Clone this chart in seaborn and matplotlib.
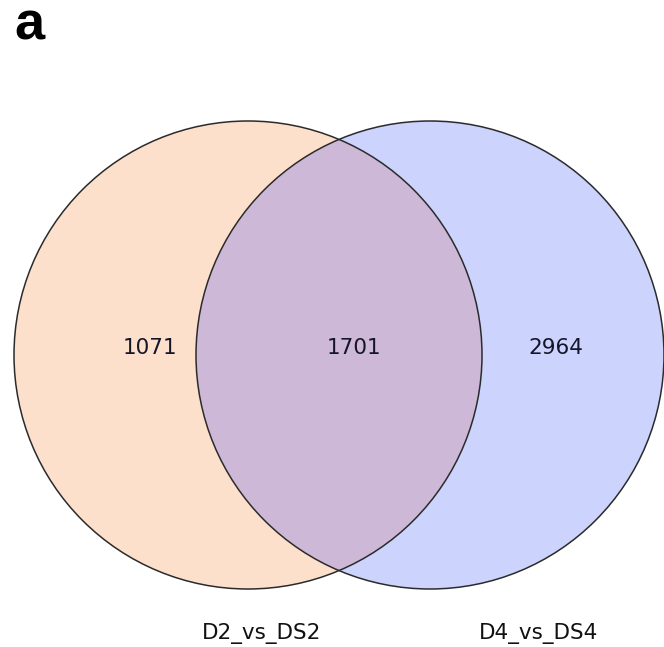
import matplotlib
matplotlib.use("Agg")
import matplotlib.pyplot as plt
from matplotlib.patches import Circle
import seaborn as sns

# Data
set_names = ["D2_vs_DS2", "D4_vs_DS4"]
region_labels = ["1071", "1701", "2964"]  # left only, shared, right only
panel_label = "a"

# Layout (pixel coordinates)
W, H = 664, 647
centers = [(248, 355), (430, 355)]
radius = 234
fill_colors = ["#FDE0CC", "#CCD3FD"]
overlap_color = "#CDB9D7"
count_pos = [(150, 348), (354, 348), (556, 348)]
name_pos = [(262, 634), (539, 634)]

sns.set_theme(style="white")
plt.rcParams["font.family"] = ["DejaVu Sans"]

fig = plt.figure(figsize=(W / 100, H / 100), dpi=100)
ax = fig.add_axes([0, 0, 1, 1])
ax.set_xlim(0, W)
ax.set_ylim(H, 0)
ax.set_aspect("equal")
ax.axis("off")

circles = []
for c, col in zip(centers, fill_colors):
    p = Circle(c, radius, facecolor=col, edgecolor="none", zorder=1)
    ax.add_patch(p)
    circles.append(p)

# overlap region
ov = Circle(centers[0], radius, facecolor=overlap_color, edgecolor="none", zorder=2)
ax.add_patch(ov)
ov.set_clip_path(circles[1])

for c in centers:
    ax.add_patch(Circle(c, radius, facecolor="none", edgecolor="#2b2b2b",
                        linewidth=1.1, zorder=3))

for (x, y), t in zip(count_pos, region_labels):
    ax.text(x, y, t, ha="center", va="center", fontsize=15.5, color="#15152a", zorder=4)

for (x, y), t in zip(name_pos, set_names):
    ax.text(x, y, t, ha="center", va="center", fontsize=15.5, color="#111111", zorder=4)

ax.text(14, 40, panel_label, ha="left", va="baseline", fontsize=39,
        fontweight="bold", family="Liberation Sans", color="black")

fig.savefig("out.png", dpi=100)
